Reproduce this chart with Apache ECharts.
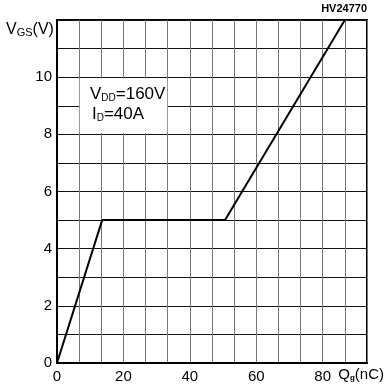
<!DOCTYPE html>
<html><head><meta charset="utf-8">
<script src="https://cdn.jsdelivr.net/npm/echarts@6/dist/echarts.min.js"></script>
<style>html,body{margin:0;padding:0;background:#fff}#c{width:384px;height:387px}</style>
</head><body><div id="c"></div>
<script>
const qg = [0, 13.6, 50.6, 86.67];
const vgs = [0, 5, 5, 12];
const xTickLabels = [0, 20, 40, 60, 80];
const yTickLabels = [0, 2, 4, 6, 8, 10];
const chart = echarts.init(document.getElementById('c'));
const F = '"Liberation Sans", Arial, sans-serif';
chart.setOption({
  animation: false,
  grid: {left: 57, top: 20, right: 17, bottom: 24, show: true, borderColor: '#000', borderWidth: 2, containLabel: false},
  xAxis: {
    type: 'value', min: 0, max: 280/3, interval: 20/3,
    axisLine: {show: true, lineStyle: {color: '#000', width: 2}},
    axisTick: {show: false},
    splitLine: {show: true, lineStyle: {color: '#777', width: 1}},
    axisLabel: {
      margin: 6, color: '#000', fontSize: 15, fontFamily: F, showMaxLabel: false,
      formatter: v => { const r = Math.round(v); return (Math.abs(v - r) < 0.01 && xTickLabels.includes(r)) ? String(r) : ''; }
    }
  },
  yAxis: {
    type: 'value', min: 0, max: 12, interval: 1,
    axisLine: {show: true, lineStyle: {color: '#000', width: 2}},
    axisTick: {show: false},
    splitLine: {show: true, lineStyle: {color: '#111', width: 1}},
    axisLabel: {
      margin: 5, color: '#000', fontSize: 15, fontFamily: F,
      formatter: v => yTickLabels.includes(v) ? String(v) : ''
    }
  },
  series: [{
    type: 'line', data: qg.map((x, i) => [x, vgs[i]]), symbol: 'none',
    lineStyle: {color: '#000', width: 2}, z: 5,
    markArea: {silent: true, itemStyle: {color: '#fff', opacity: 1}, data: [[{coord: [6.85, 8.05]}, {coord: [33.2, 9.95]}]]}
  }],
  graphic: [
    {type: 'text', z: 100, left: 6, top: 22, style: {rich: {a: {fontSize: 16, fontFamily: F, fill: '#000'}, s: {fontSize: 11, fontFamily: F, fill: '#000', verticalAlign: 'bottom'}}, text: '{a|V}{s|GS}{a|(V)}'}},
    {type: 'text', z: 100, right: 17, top: 3, style: {text: 'HV24770', fontSize: 11, fontWeight: 'bold', fontFamily: F, fill: '#000'}},
    {type: 'text', z: 100, right: 0, top: 367, style: {rich: {a: {fontSize: 15, fontFamily: F, fill: '#000'}, s: {fontSize: 8, fontFamily: F, fill: '#000', fontWeight: 'bold', verticalAlign: 'bottom'}}, text: '{a|Q}{s|g}{a|(nC)}'}},
    {type: 'text', z: 100, left: 90, top: 86, style: {rich: {a: {fontSize: 17, fontFamily: F, fill: '#000'}, s: {fontSize: 10, fontFamily: F, fill: '#000', verticalAlign: 'bottom'}}, text: '{a|V}{s|DD}{a|=160V}'}},
    {type: 'text', z: 100, left: 92, top: 106, style: {rich: {a: {fontSize: 17, fontFamily: F, fill: '#000'}, s: {fontSize: 10, fontFamily: F, fill: '#000', verticalAlign: 'bottom'}}, text: '{a|I}{s|D}{a|=40A}'}}
  ]
});
</script></body></html>
